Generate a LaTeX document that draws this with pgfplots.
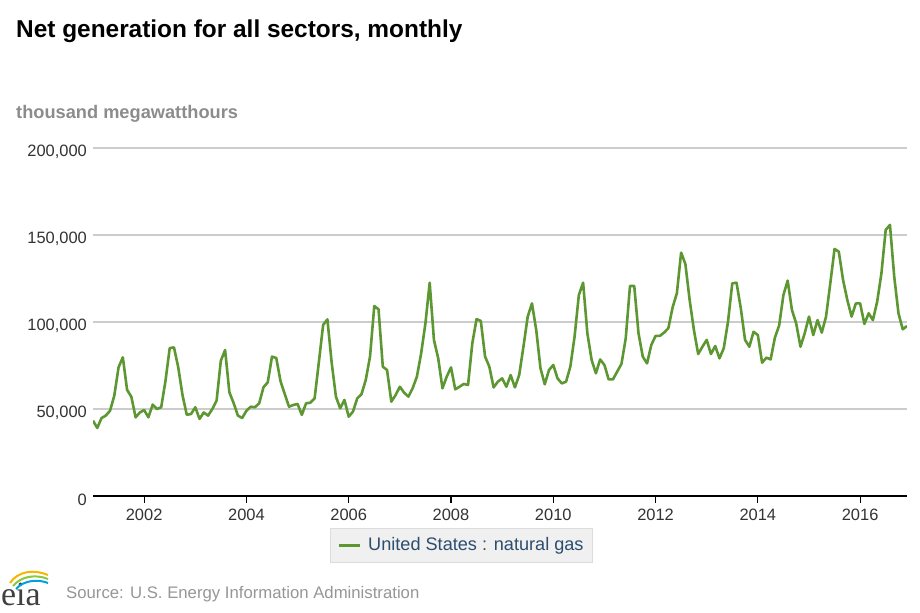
\documentclass[border=0pt]{standalone}
\usepackage{fontspec}
\setmainfont{Liberation Sans}
\newfontfamily\logofont{Liberation Serif}
\usepackage{pgfplots}
\usepackage{pgfplotstable}
\pgfplotsset{compat=1.18}

\definecolor{gasgreen}{RGB}{93,151,50}
\definecolor{gridgray}{RGB}{204,204,204}
\definecolor{ticktext}{RGB}{51,51,51}
\definecolor{unitgray}{RGB}{140,140,140}
\definecolor{legendblue}{RGB}{44,77,110}
\definecolor{legendfill}{RGB}{240,240,240}
\definecolor{legenddraw}{RGB}{220,220,220}
\definecolor{sourcegray}{RGB}{150,150,150}

% monthly net generation, thousand MWh, Jan 2001 - Dec 2016 (one year per line)
\pgfplotstableread[row sep=\\]{
gen\\
43300\\ 39100\\ 44800\\ 46200\\ 49000\\ 57700\\ 74000\\ 79700\\ 61000\\ 57000\\ 45200\\ 48000\\
49400\\ 45200\\ 52500\\ 50000\\ 51000\\ 66000\\ 85000\\ 85400\\ 74000\\ 58000\\ 46700\\ 47100\\
51000\\ 44300\\ 48000\\ 46200\\ 50000\\ 54800\\ 77800\\ 83900\\ 59600\\ 53400\\ 46200\\ 44800\\
49000\\ 51300\\ 51000\\ 53300\\ 62500\\ 65300\\ 80100\\ 79300\\ 66000\\ 58500\\ 51300\\ 52300\\
52900\\ 46600\\ 53300\\ 53600\\ 56100\\ 77000\\ 98300\\ 101500\\ 76700\\ 57100\\ 50400\\ 55200\\
45600\\ 48500\\ 56100\\ 58500\\ 66700\\ 80100\\ 109200\\ 107300\\ 74300\\ 72400\\ 54200\\ 58000\\
62800\\ 59400\\ 57100\\ 61900\\ 68600\\ 82000\\ 99200\\ 122600\\ 89700\\ 79100\\ 61900\\ 68600\\
73900\\ 61300\\ 62800\\ 64400\\ 63800\\ 87700\\ 101700\\ 100600\\ 80100\\ 74300\\ 62400\\ 65700\\
67600\\ 62800\\ 69500\\ 62400\\ 69500\\ 85800\\ 103100\\ 110700\\ 95400\\ 73400\\ 64200\\ 72400\\
75300\\ 67600\\ 64700\\ 65700\\ 74300\\ 91600\\ 115500\\ 122600\\ 93500\\ 78200\\ 70500\\ 78500\\
75300\\ 67000\\ 67000\\ 71500\\ 75900\\ 90600\\ 120700\\ 120700\\ 93500\\ 80100\\ 76200\\ 86800\\
92000\\ 92000\\ 93900\\ 96400\\ 108400\\ 116500\\ 139900\\ 133300\\ 112600\\ 95400\\ 81600\\ 85800\\
89700\\ 81600\\ 86200\\ 79100\\ 84900\\ 100200\\ 122200\\ 122600\\ 107900\\ 89700\\ 85800\\ 94400\\
92500\\ 76600\\ 79500\\ 78500\\ 91000\\ 98000\\ 115500\\ 123800\\ 106900\\ 99200\\ 85800\\ 93500\\
103100\\ 92500\\ 101100\\ 93900\\ 103100\\ 122200\\ 142000\\ 140400\\ 124100\\ 112600\\ 103100\\ 110700\\
110700\\ 98900\\ 105000\\ 101100\\ 111700\\ 128000\\ 152900\\ 155800\\ 126100\\ 105000\\ 95800\\ 97700\\
}\natgas

\begin{document}
\begin{tikzpicture}
\useasboundingbox (0,0) rectangle (920bp,613bp);

\begin{axis}[
  at={(93bp,117bp)}, anchor=south west,
  scale only axis, width=814bp, height=348bp,
  xmin=0, xmax=191, ymin=0, ymax=200000,
  axis x line=bottom, axis y line=left,
  x axis line style={-, black, line width=1.5bp},
  y axis line style={draw=none},
  xtick={12,36,...,180},
  xticklabels={2002,2004,2006,2008,2010,2012,2014,2016},
  ytick={0,50000,...,200000},
  scaled y ticks=false,
  /pgf/number format/.cd, fixed, 1000 sep={,}, assume math mode=true,
  /pgfplots/.cd,
  ymajorgrids, grid style={gridgray, line width=1.2bp},
  tick align=outside, major tick length=7bp,
  xtick style={black, line width=1.2bp},
  ytick style={draw=none},
  ticklabel style={font=\fontsize{16.5}{18}\selectfont, text=ticktext},
  xticklabel style={yshift=-3bp},
  yticklabel style={anchor=east, inner xsep=0pt, xshift=1bp, yshift=-4bp},
  legend style={at={(0.4527,-0.092)}, anchor=north, draw=legenddraw, fill=legendfill,
    font=\fontsize{18.2}{20}\selectfont, text=legendblue, inner xsep=7bp, inner ysep=7.5bp},
  legend image code/.code={\draw[#1, line width=3bp] (0bp,0bp) -- (21bp,0bp);
    \path (26bp,0bp);},
]
\addplot[gasgreen, line width=2.6bp, line join=round, no marks]
  table[x expr=\coordindex, y=gen] {\natgas};
\addlegendentry{United States : natural gas}
\end{axis}

\node[anchor=base west, inner sep=0pt, font=\fontsize{24.5}{28}\selectfont\bfseries]
  at (16bp,575.5bp) {Net generation for all sectors, monthly};
\node[anchor=base west, inner sep=0pt, font=\fontsize{18.3}{22}\selectfont\bfseries, text=unitgray]
  at (16bp,494bp) {thousand megawatthours};
\node[anchor=base west, inner sep=0pt, font=\fontsize{16.8}{20}\selectfont, text=sourcegray]
  at (66bp,15bp) {Source: U.S. Energy Information Administration};

% eia logo
\node[anchor=base west, inner sep=0pt, font=\fontsize{34}{34}\selectfont\logofont, text=black!75]
  at (1bp,8bp) {eia};
\draw[color={rgb,255:red,245;green,183;blue,0}, line width=2bp] (10bp,30bp) .. controls (18bp,42bp) and (34bp,44bp) .. (48bp,38bp);
\draw[color={rgb,255:red,141;green,198;blue,63}, line width=2bp] (13bp,27bp) .. controls (21bp,37bp) and (36bp,39bp) .. (48bp,34bp);
\draw[color={rgb,255:red,0;green,160;blue,220}, line width=2bp] (16bp,24bp) .. controls (24bp,33bp) and (38bp,34bp) .. (48bp,30bp);
\end{tikzpicture}
\end{document}
